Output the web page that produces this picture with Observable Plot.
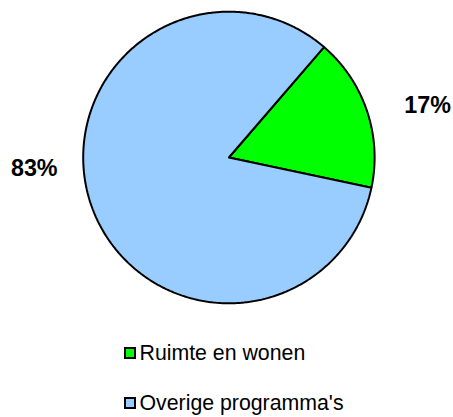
<!DOCTYPE html>
<html><head><meta charset="utf-8">
<script src="https://cdn.jsdelivr.net/npm/d3@7"></script>
<script src="https://cdn.jsdelivr.net/npm/@observablehq/plot@0.6"></script>
<style>
body{margin:0;background:#fff;font-family:"Liberation Sans",Arial,sans-serif;}
#wrap{position:relative;width:453px;height:417px;overflow:hidden}
#wrap svg{position:absolute;left:0;top:0}
.leg{position:absolute;left:124px;font-size:21.3px;line-height:21px;height:21px;color:#000;white-space:nowrap}
.sw{position:absolute;left:0;width:12px;height:12px;box-sizing:border-box;border:2px solid #000}
.tx{position:absolute;left:15.5px;top:0}
</style></head><body><div id="wrap"></div>
<script>
const categories = ["Ruimte en wonen", "Overige programma's"];
const values = [17, 83];
const labels = ["17%", "83%"];
const colors = ["#00ff00", "#99ccff"];

const start = 40.75 * Math.PI / 180;
const arcs = d3.pie().sort(null).startAngle(start).endAngle(start + 2 * Math.PI)(values);
const slicePts = [];
arcs.forEach((a, i) => {
  slicePts.push({cat: categories[i], x: 0, y: 0});
  const n = Math.max(2, Math.ceil((a.endAngle - a.startAngle) / 0.01));
  for (let k = 0; k <= n; k++) {
    const t = a.startAngle + (a.endAngle - a.startAngle) * k / n;
    slicePts.push({cat: categories[i], x: Math.sin(t), y: Math.cos(t)});
  }
  slicePts.push({cat: categories[i], x: 0, y: 0});
});
const labelPts = arcs.map((a, i) => {
  const m = (a.startAngle + a.endAngle) / 2;
  return {label: labels[i], x: 1.41 * Math.sin(m), y: 1.36 * Math.cos(m)};
});

const chart = Plot.plot({
  width: 453, height: 325,
  marginLeft: 82.7, marginRight: 78.9, marginTop: 11.2, marginBottom: 22.2,
  x: {domain: [-1, 1], axis: null},
  y: {domain: [-1, 1], axis: null},
  color: {domain: categories, range: colors},
  style: {background: "transparent", overflow: "visible"},
  marks: [
    Plot.line(slicePts, {x: "x", y: "y", z: "cat", fill: "cat", stroke: "black", strokeWidth: 2, strokeLinejoin: "miter", curve: "linear"}),
    Plot.text([labelPts[0]], {x: "x", y: "y", text: "label", dx: 4, dy: 11, fontFamily: "Liberation Sans", fontSize: 23.3, fontWeight: "bold", fill: "black"}),
    Plot.text([labelPts[1]], {x: "x", y: "y", text: "label", dx: 0, dy: -52, fontFamily: "Liberation Sans", fontSize: 23.3, fontWeight: "bold", fill: "black"})
  ]
});
const wrap = document.getElementById("wrap");
wrap.appendChild(chart);

const rowTops = [343, 393];
categories.forEach((c, i) => {
  const row = document.createElement("div");
  row.className = "leg";
  row.style.top = rowTops[i] + "px";
  const sw = document.createElement("div");
  sw.className = "sw";
  sw.style.background = colors[i];
  sw.style.top = "4px";
  const tx = document.createElement("span");
  tx.className = "tx";
  tx.textContent = c;
  row.appendChild(sw);
  row.appendChild(tx);
  wrap.appendChild(row);
});
</script></body></html>
